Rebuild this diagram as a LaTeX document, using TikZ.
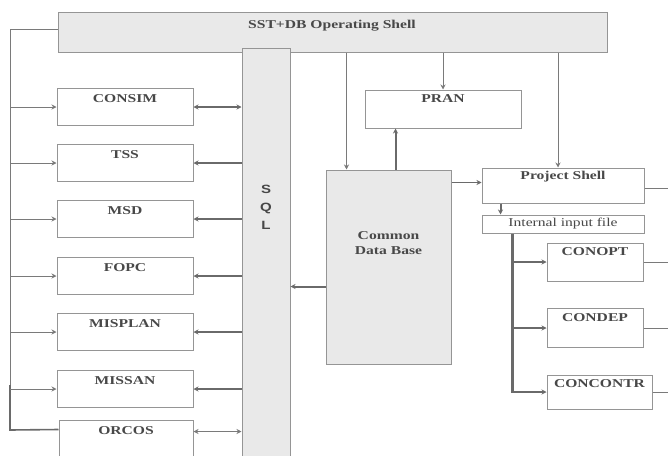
\documentclass[tikz,border=0pt]{standalone}
\usepackage{fontspec}
\setmainfont{Liberation Serif}[FakeStretch=1.3]
\newfontfamily\sqlfont{Liberation Sans}[FakeStretch=1.25]
\usetikzlibrary{arrows.meta,calc}
\definecolor{ln}{HTML}{7A7A7A}
\definecolor{tk}{HTML}{6A6A6A}
\definecolor{bx}{HTML}{959595}
\definecolor{txt}{HTML}{484848}
\definecolor{fl}{HTML}{E9E9E9}
\tikzset{
  box/.style={draw=bx, line width=1pt, fill=white, inner sep=0pt},
  shaded/.style={draw=bx, line width=1pt, fill=fl, inner sep=0pt},
  lbl/.style={font=\fontsize{12}{14}\selectfont\bfseries, text=txt},
  thinln/.style={draw=ln, line width=0.9pt},
  thickln/.style={draw=tk, line width=2pt},
  tip/.style={-{Stealth[length=5pt,width=5pt]}},
  dtip/.style={{Stealth[length=5pt,width=5pt]}-{Stealth[length=5pt,width=5pt]}},
}
\begin{document}
\begin{tikzpicture}[x=1pt,y=-1pt]
\useasboundingbox (0,0) rectangle (668,455);
% shaded blocks
\node[shaded, minimum width=549pt, minimum height=40pt] (shell) at (332.5,32) {};
\node[lbl] at (332,26) {SST+DB Operating Shell};
\node[shaded, minimum width=48pt, minimum height=410pt] (sql) at (266,253) {};
\node[font=\sqlfont\fontsize{12}{14}\selectfont\bfseries, text=txt, align=center] at (266,207) {S\\[4pt]Q\\[4pt]L};
\node[shaded, minimum width=125pt, minimum height=194pt] (cdb) at (388.5,267) {};
\node[lbl, align=center, font=\fontsize{12}{15}\selectfont\bfseries] at (388.5,243) {Common\\Data Base};
% left boxes
\foreach \n/\t/\y in {consim/CONSIM/107, tss/TSS/163, msd/MSD/219, fopc/FOPC/276, misplan/MISPLAN/332, missan/MISSAN/389}{
  \node[box, minimum width=136pt, minimum height=37pt] (\n) at (125,\y) {};
  \node[lbl] at ($(\n.north)+(0,11)$) {\t};
}
\node[box, minimum width=134pt, minimum height=40pt] (orcos) at (126,440) {};
\node[lbl] at ($(orcos.north)+(0,11)$) {ORCOS};
% right boxes
\node[box, minimum width=156pt, minimum height=38pt] (pran) at (443,109) {};
\node[lbl] at ($(pran.north)+(0,9)$) {PRAN};
\node[box, minimum width=162pt, minimum height=35pt] (ps) at (563,185.5) {};
\node[lbl] at ($(ps.north)+(0,9.5)$) {Project Shell};
\node[box, minimum width=162pt, minimum height=18pt, font=\fontsize{12}{14}\selectfont, text=txt] (iif) at (563,224) {Internal input file};
\node[box, minimum width=96pt, minimum height=38pt] (conopt) at (595,262) {};
\node[lbl] at ($(conopt.north)+(0,9.5)$) {CONOPT};
\node[box, minimum width=96pt, minimum height=39pt] (condep) at (595,328) {};
\node[lbl] at ($(condep.north)+(0,10)$) {CONDEP};
\node[box, minimum width=105pt, minimum height=34pt] (concontr) at (599.5,392) {};
\node[lbl] at ($(concontr.north)+(0,9)$) {CONCONTR};
% coordinates
\coordinate (bt) at (10,29);
\coordinate (bm) at (10,385);
\coordinate (bb) at (10,430);
\coordinate (oc) at ($(orcos.north west)+(0,10)$);
\coordinate (oe) at ($(orcos.north east)+(0,12)$);
\coordinate (cdbA) at ($(cdb.north west)+(21,0)$);
\coordinate (cdbB) at ($(cdb.north west)+(70,0)$);
\coordinate (psT) at ($(ps.north)+(-5,0)$);
\coordinate (cdbS) at ($(cdb.north west)+(0,117)$);
\coordinate (psA) at ($(ps.north west)+(0,15)$);
\coordinate (psR) at (668,188);
\coordinate (iifA) at ($(iif.north west)+(19,0)$);
\coordinate (iifB) at ($(iif.south west)+(31,0)$);
\coordinate (vb) at ($(iifB)+(0,159)$);
\coordinate (r1) at (668,262);
\coordinate (r2) at (668,328);
\coordinate (r3) at (668,392);
% left bus
\draw[thinln] (shell.west |- bt) -- (bt) -- (bm);
\draw[thickln, line width=1.6pt] (bm) -- (bb) -- (oc);
\foreach \n in {consim,tss,msd,fopc,misplan,missan}{
  \draw[thinln, tip] (bt |- \n.west) -- (\n.west);
}
% SQL links
\draw[thickln, dtip] (consim.east) -- (sql.west |- consim.east);
\foreach \n in {tss,msd,fopc,misplan,missan}{
  \draw[thickln, tip] (sql.west |- \n.east) -- (\n.east);
}
\draw[thinln, dtip, line width=1.2pt] (oe) -- (sql.west |- oe);
\draw[thickln, tip] (cdbS) -- (sql.east |- cdbS);
% shell links
\draw[thinln, tip] (shell.south -| cdbA) -- (cdbA);
\draw[thinln, tip] (shell.south -| pran.north) -- (pran.north);
\draw[thinln, tip] (shell.south -| psT) -- (psT);
\draw[thickln, tip] (cdbB) -- (pran.south -| cdbB);
\draw[thickln, tip, line width=1.4pt] (cdb.east |- psA) -- (psA);
\draw[thinln] (ps.east |- psR) -- (psR);
\draw[thickln, tip] (ps.south -| iifA) -- (iifA);
\draw[thickln, line width=2.4pt] (iifB) -- (vb);
\draw[thickln, tip, line width=1.4pt] (iifB |- conopt.west) -- (conopt.west);
\draw[thickln, tip, line width=1.4pt] (iifB |- condep.west) -- (condep.west);
\draw[thickln, tip, line width=1.4pt] (iifB |- concontr.west) -- (concontr.west);
\draw[thinln] (conopt.east) -- (r1);
\draw[thinln] (condep.east) -- (r2);
\draw[thinln] (concontr.east) -- (r3);
\end{tikzpicture}
\end{document}
